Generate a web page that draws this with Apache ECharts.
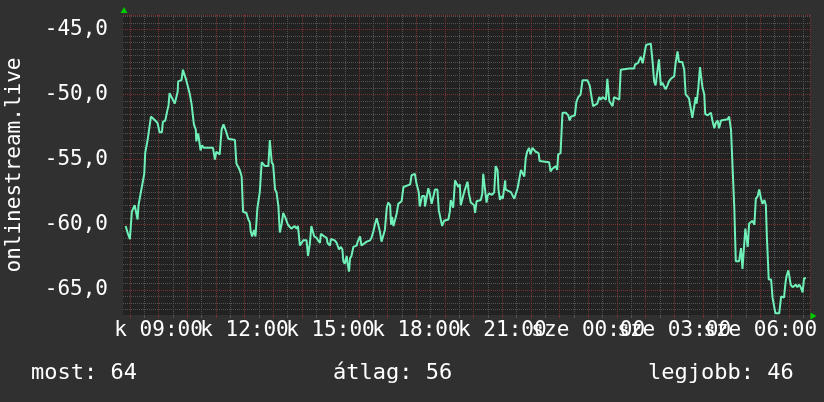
<!DOCTYPE html>
<html><head><meta charset="utf-8">
<script src="https://cdn.jsdelivr.net/npm/echarts@6/dist/echarts.min.js"></script>
<style>html,body{margin:0;padding:0;background:#303030;}#c{width:824px;height:402px;}</style>
</head><body><div id="c"></div>
<script>
// time in minutes since Tuesday (kedd) 00:00
const minutes = [
471,476,480,483,484,488,490,493,496,497,
498,502,504,507,510,512,517,519,524,528,
533,538,542,547,549,554,558,561,563,567,
570,574,577,580,581,584,588,591,595,598,
602,605,609,612,614,618,619,623,624,628,
631,635,654,658,661,665,668,672,676,679,
682,686,700,703,707,710,714,717,724,728,
731,733,736,740,743,746,747,752,756,760,
763,770,773,777,780,784,787,791,794,798,
801,805,808,811,818,822,825,829,832,836,
839,843,846,850,853,857,860,864,866,871,
874,878,880,887,892,894,899,901,909,913,
918,922,925,927,930,934,936,939,941,944,
948,955,957,962,965,969,976,983,986,990,
993,997,1000,1004,1007,1011,1014,1018,1021,1025,
1027,1029,1032,1035,1039,1042,1049,1053,1067,1070,
1077,1080,1084,1085,1087,1091,1092,1097,1098,1101,
1105,1108,1112,1115,1119,1124,1127,1131,1134,1138,
1147,1150,1152,1156,1157,1161,1164,1168,1171,1173,
1176,1180,1183,1187,1190,1194,1201,1203,1206,1215,
1218,1220,1224,1227,1229,1232,1236,1239,1243,1246,
1250,1252,1255,1258,1261,1266,1267,1278,1281,1285,
1288,1292,1295,1299,1302,1306,1309,1312,1316,1319,
1323,1326,1330,1336,1338,1358,1361,1365,1368,1372,
1375,1377,1382,1386,1393,1398,1401,1404,1412,1415,
1419,1424,1428,1438,1440,1443,1447,1450,1454,1459,
1463,1466,1470,1477,1480,1484,1487,1491,1494,1498,
1505,1508,1526,1536,1538,1544,1547,1550,1554,1557,
1561,1564,1571,1575,1578,1581,1585,1588,1592,1595,
1599,1602,1606,1609,1613,1620,1623,1627,1630,1637,
1641,1644,1651,1655,1658,1662,1665,1667,1669,1671,
1674,1676,1679,1683,1685,1690,1697,1700,1704,1707,
1711,1714,1718,1732,1735,1739,1742,1746,1749,1753,
1756,1760,1763,1767,1769,1772,1774,1777,1784,1788,
1791,1795,1798,1802,1805,1809,1812,1814,1818,1823,
1826,1830,1832,1840,1844,1850,1853,1855,1859,1861,
1864,1868,1875,1878,1882,1885,1889,1892,1896
];
const signal = [
-60.1,-60.7,-61.1,-61.1,-59.0,-58.9,-58.5,-58.5,-59.6,-59.6,
-58.5,-58.5,-57.3,-57.3,-56.1,-54.5,-53.5,-53.5,-51.7,-51.7,
-52.0,-52.2,-52.9,-52.9,-52.1,-52.0,-51.3,-50.8,-49.9,-50.2,
-50.3,-50.7,-50.8,-49.8,-49.0,-48.9,-48.9,-48.1,-48.0,-48.9,
-48.9,-49.9,-50.7,-50.7,-52.3,-52.7,-53.6,-53.0,-53.0,-54.3,
-53.9,-54.1,-54.1,-55.0,-54.4,-54.4,-54.6,-52.7,-52.3,-52.3,
-52.9,-53.4,-53.5,-55.3,-55.4,-55.8,-56.3,-59.0,-59.1,-59.6,
-59.8,-60.5,-60.9,-60.4,-60.9,-60.9,-58.7,-57.5,-55.2,-55.2,
-55.5,-55.5,-53.5,-55.2,-55.4,-57.3,-57.5,-58.6,-60.6,-59.9,
-59.1,-59.4,-59.5,-60.0,-60.3,-60.3,-60.1,-60.3,-60.1,-61.6,
-61.6,-61.2,-61.3,-61.2,-62.4,-61.4,-60.1,-60.1,-60.9,-61.0,
-61.2,-61.4,-60.7,-60.9,-61.0,-61.4,-61.6,-61.1,-61.2,-61.4,
-61.9,-61.7,-61.9,-62.8,-63.0,-62.4,-63.0,-63.6,-62.6,-62.4,
-61.7,-61.6,-61.3,-60.9,-61.6,-61.6,-61.3,-61.2,-61.0,-60.5,
-60.0,-59.5,-59.5,-60.6,-61.3,-61.3,-60.4,-58.7,-58.3,-58.5,
-60.0,-59.4,-60.1,-60.1,-59.1,-58.4,-58.2,-57.1,-56.9,-56.2,
-56.1,-56.8,-56.9,-57.5,-58.6,-58.6,-57.8,-57.8,-58.6,-58.6,
-57.2,-57.6,-58.4,-58.4,-57.3,-57.3,-58.9,-59.6,-60.1,-59.7,
-59.6,-59.0,-58.1,-58.0,-58.7,-56.6,-56.7,-57.1,-56.9,-58.5,
-58.4,-57.5,-57.5,-56.7,-57.6,-58.3,-58.5,-59.1,-58.2,-58.1,
-57.6,-56.1,-56.2,-58.3,-57.8,-57.6,-57.5,-57.7,-57.5,-55.5,
-55.8,-57.3,-58.1,-57.8,-58.0,-56.6,-57.3,-57.5,-57.6,-58.0,
-58.0,-57.2,-57.1,-55.8,-55.8,-56.3,-54.9,-54.4,-54.1,-54.6,
-54.1,-54.1,-54.4,-54.5,-55.1,-55.2,-55.9,-55.7,-55.8,-55.5,
-55.8,-54.6,-54.5,-51.4,-51.4,-51.6,-52.0,-51.7,-51.6,-50.6,
-50.2,-50.0,-48.9,-48.9,-48.8,-49.3,-49.4,-50.9,-51.0,-50.7,
-50.2,-50.4,-50.2,-50.4,-48.8,-50.5,-50.6,-50.9,-50.2,-50.3,
-50.4,-48.1,-48.0,-48.0,-47.7,-47.6,-47.6,-47.1,-47.6,-47.0,
-46.2,-46.1,-46.1,-47.6,-49.0,-49.3,-49.3,-47.3,-49.3,-49.1,
-49.0,-49.6,-49.3,-49.0,-48.8,-48.6,-47.6,-46.7,-47.5,-47.5,
-48.1,-50.0,-50.3,-50.4,-51.8,-51.8,-50.2,-50.7,-50.6,-49.3,
-47.9,-48.0,-49.4,-50.0,-51.5,-51.6,-51.4,-52.0,-52.6,-52.2,
-52.0,-52.6,-52.0,-51.9,-51.7,-52.7,-52.7,-58.8,-62.8,-62.8,
-62.8,-61.8,-63.4,-63.4,-60.3,-60.3,-61.7,-59.9,-59.7,-60.0,
-58.0,-57.8,-57.3,-58.0,-58.4,-58.1,-58.5,-60.8,-64.2,-64.2,
-65.6,-65.6,-66.8,-66.8,-65.5,-65.6,-64.5,-64.0,-63.5,-63.9,
-64.6,-64.8,-64.6,-64.8,-64.6,-64.8,-65.2,-64.1,-64.1
];
const xLabelMinutes = [540,720,900,1080,1260,1440,1620,1800];
const dayNames = ['k','sze'];
const yLabelValues = [-65,-60,-55,-50,-45];
const yAxisTitle = 'onlinestream.live';
const summaryTexts = ['most: 64','átlag: 56','legjobb: 46'];

const X_MIN = 465.5, X_MAX = 1905.5, Y_MIN = -66.93, Y_MAX = -43.9;
const PLOT = {left: 123, top: 15, width: 687.5, height: 300};
const FONT = 'DejaVu Sans Mono';
const GRAY = '#535353', RED = '#7c3232';

const pad = n => (n < 10 ? '0' : '') + n;
function fmtTime(v) {
  const d = Math.floor(v / 1440), m = Math.round(v - d * 1440);
  return dayNames[d] + ' ' + pad(Math.floor(m / 60)) + ':' + pad(m % 60);
}

// helper grids so that grid lines start at round values (ticks are counted from min)
const pxPerMin = PLOT.width / (X_MAX - X_MIN);
const pxPerUnit = PLOT.height / (Y_MAX - Y_MIN);
const gridBase = {outerBoundsMode: 'none', containLabel: false};
function vGrid(start) {
  const off = (start - X_MIN) * pxPerMin;
  return Object.assign({left: PLOT.left + off, top: PLOT.top, width: PLOT.width - off, height: PLOT.height, show: false}, gridBase);
}
function hGrid(start) {
  return Object.assign({left: PLOT.left, top: PLOT.top, width: PLOT.width, height: (Y_MAX - start) * pxPerUnit, show: false}, gridBase);
}
function lineAxis(min, max, interval, color, withTicks) {
  return {type: 'value', min, max, interval, z: 1,
    axisLine: {show: false}, axisLabel: {show: false},
    axisTick: {show: !!withTicks, length: 3, lineStyle: {color}},
    splitLine: {show: true, lineStyle: {color, width: 1, type: [1, 1]}}};
}
function plainAxis(min, max) {
  return {type: 'value', min, max, splitLine: {show: false},
    axisLine: {show: false}, axisTick: {show: false}, axisLabel: {show: false}};
}
const xLabelStyle = {interval: 0, formatter: fmtTime, color: '#ffffff', fontSize: 21, fontFamily: FONT,
  margin: 5, hideOverlap: false, showMinLabel: true, showMaxLabel: true};

const chart = echarts.init(document.getElementById('c'), null, {renderer: 'canvas'});
chart.setOption({
  backgroundColor: '#303030',
  animation: false,
  textStyle: {fontFamily: FONT},
  title: summaryTexts.map((t, i) => ({
    text: t, left: [31, 333, 648][i], top: 362, padding: 0,
    textStyle: {color: '#ffffff', fontSize: 22, fontWeight: 'normal', fontFamily: FONT}
  })),
  grid: [
    Object.assign({show: true, backgroundColor: '#222222', borderWidth: 0}, PLOT, gridBase),
    vGrid(480), hGrid(-66.5), vGrid(480), hGrid(-65)
  ],
  xAxis: [{
    gridIndex: 0, type: 'value', min: X_MIN, max: X_MAX, position: 'bottom',
    axisLine: {show: false}, splitLine: {show: false}, axisTick: {show: false},
    axisLabel: Object.assign({customValues: xLabelMinutes.filter((m, i) => i % 2 === 0)}, xLabelStyle)
  },
  Object.assign(lineAxis(480, X_MAX, 30, GRAY, true), {gridIndex: 1}),
  Object.assign(plainAxis(X_MIN, X_MAX), {gridIndex: 2}),
  Object.assign(lineAxis(480, X_MAX, 60, RED, true), {gridIndex: 3}),
  Object.assign(plainAxis(X_MIN, X_MAX), {gridIndex: 4}),
  {
    gridIndex: 0, type: 'value', min: X_MIN, max: X_MAX, position: 'bottom', offset: 0,
    axisLine: {show: false}, splitLine: {show: false}, axisTick: {show: false},
    axisLabel: Object.assign({customValues: xLabelMinutes.filter((m, i) => i % 2 === 1)}, xLabelStyle)
  }],
  yAxis: [{
    gridIndex: 0, type: 'value', min: Y_MIN, max: Y_MAX,
    name: yAxisTitle, nameLocation: 'middle', nameGap: 98,
    nameTextStyle: {color: '#ffffff', fontSize: 21, fontFamily: FONT},
    axisLine: {show: false}, splitLine: {show: false}, axisTick: {show: false},
    axisLabel: {customValues: yLabelValues, formatter: v => v.toFixed(1).replace('.', ','), color: '#ffffff',
      fontSize: 21, fontFamily: FONT, margin: 15}
  },
  Object.assign(plainAxis(Y_MIN, Y_MAX), {gridIndex: 1}),
  Object.assign(lineAxis(-66.5, Y_MAX, 0.5, GRAY), {gridIndex: 2}),
  Object.assign(plainAxis(Y_MIN, Y_MAX), {gridIndex: 3}),
  Object.assign(lineAxis(-65, Y_MAX, 5, RED), {gridIndex: 4})
  ],
  series: [{
    type: 'line', xAxisIndex: 0, yAxisIndex: 0, z: 3, showSymbol: false, symbol: 'none', clip: true,
    data: minutes.map((m, i) => [m, signal[i]]),
    lineStyle: {color: '#6ff0b8', width: 2},
    markPoint: {
      silent: true, label: {show: false}, itemStyle: {color: '#00cc00'},
      data: [
        {coord: [X_MIN, Y_MAX], symbol: 'triangle', symbolSize: [7, 6], symbolOffset: [1, -5]},
        {coord: [X_MAX, Y_MIN], symbol: 'triangle', symbolRotate: -90, symbolSize: [7, 6], symbolOffset: [3, 1]}
      ]
    }
  }]
});
</script></body></html>
